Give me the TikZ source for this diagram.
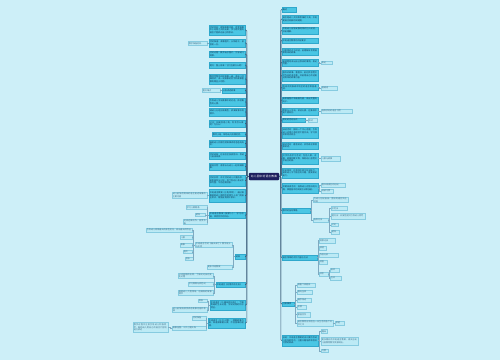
\documentclass[tikz,border=0pt]{standalone}
\usepackage{fontspec}
\newfontfamily\cjk{Noto Sans CJK SC}
\XeTeXlinebreaklocale "zh"
\XeTeXlinebreakskip=0pt plus 1pt
\definecolor{bg}{HTML}{CDEFF8}
\definecolor{mainfill}{HTML}{4AC6E4}
\definecolor{mainline}{HTML}{2FA8CC}
\definecolor{maintext}{HTML}{123A5A}
\definecolor{leaffill}{HTML}{BCEAF5}
\definecolor{leafline}{HTML}{86CBE0}
\definecolor{leaftext}{HTML}{3F6F8A}
\definecolor{centrefill}{HTML}{1D1F5E}
\definecolor{spinec}{HTML}{3D5F7C}
\definecolor{twigc}{HTML}{7FA9C0}
\tikzset{
  basebox/.style={rectangle, inner xsep=0.8pt, inner ysep=0.3pt, align=left,
    font=\cjk\fontsize{2.1}{2.6}\selectfont},
  mainbox/.style={basebox, fill=mainfill, draw=mainline, line width=0.3pt, text=maintext},
  leafbox/.style={basebox, fill=leaffill, draw=leafline, line width=0.3pt, text=leaftext},
  centrebox/.style={basebox, align=center, fill=centrefill, draw=centrefill, rounded corners=1pt,
    text=white, font=\cjk\fontsize{2.7}{3.2}\selectfont},
  spine/.style={draw=spinec, line width=0.6pt, rounded corners=1pt},
  twig/.style={draw=twigc, line width=0.35pt},
}
\newcommand\mbx[7]{%
  \pgfmathsetmacro\bw{#4-#2}\pgfmathsetmacro\bh{#5-#3}%
  \pgfmathsetmacro\bcx{(#2+#4)/2}\pgfmathsetmacro\bcy{(#3+#5)/2}%
  \pgfmathsetmacro\btw{#4-#2-1.6}%
  \node[#6, minimum width=\bw pt, minimum height=\bh pt, text width=\btw pt] (#1) at (\bcx,\bcy) {#7};}
\begin{document}
\begin{tikzpicture}[x=1pt,y=-1pt]
\useasboundingbox (0,0) rectangle (500,360);
\fill[bg] (0,0) rectangle (500,360);
\coordinate (spL) at (246.8,0);
\coordinate (spR) at (280.8,0);
% centre
\mbx{C}{249}{173}{279}{180}{centrebox}{幼儿园中班语言教案}
% left main
\mbx{L1}{209}{25}{245}{35}{mainbox}{活动目标：理解故事内容，感受故事中小动物之间的友爱，学习用完整的语言大胆表达自己的想法。}
\mbx{L2}{209}{39}{245}{47}{mainbox}{活动准备：故事图片、头饰若干，录音机一台。}
\mbx{L3}{209}{51}{245}{57.5}{mainbox}{活动过程：教师出示图片，引导幼儿观察。}
\mbx{L4}{209}{62}{245}{68.5}{mainbox}{提问：图上有谁？它们在做什么呢？}
\mbx{L5}{209}{74}{245}{84}{mainbox}{教师完整地讲述故事一遍，请幼儿仔细倾听，说一说故事的名字和故事里都有哪些小动物。}
\mbx{L6}{222}{88}{245}{93}{mainbox}{分段讲述故事}
\mbx{L7}{209}{98}{245}{106}{mainbox}{引导幼儿学说故事中的对话，体验角色的心情。}
\mbx{L8}{209}{108}{245}{116}{mainbox}{请幼儿分组扮演角色，表演故事中的情节。}
\mbx{L9}{209}{120}{245}{127}{mainbox}{讨论：如果你是小兔，你会怎么做呢？为什么？}
\mbx{L10}{212}{132}{245}{136.5}{mainbox}{教师小结，帮助幼儿梳理经验。}
\mbx{L11}{209}{140}{245}{147}{mainbox}{鼓励幼儿回家后把故事讲给爸爸妈妈听。}
\mbx{L12}{209}{152}{245}{159}{mainbox}{活动延伸：在语言区投放图书，供幼儿自由阅读。}
\mbx{L13}{209}{163}{245}{170}{mainbox}{家园共育：请家长与幼儿一起续编故事。}
\mbx{L14}{209}{175}{245}{186}{mainbox}{活动反思：本次活动幼儿兴趣浓厚，能积极参与讨论，但个别幼儿表达不够完整，今后还需加强。}
\mbx{L15}{209}{189}{245}{202}{mainbox}{中班语言教案《小兔乖乖》：通过故事帮助幼儿懂得不给陌生人开门的安全常识，增强自我保护意识。}
\mbx{L16}{209}{212}{245}{218.5}{mainbox}{中班语言教案《拔萝卜》：学习词语，体验合作的快乐。}
\mbx{L17}{235}{254}{245}{259}{mainbox}{延伸}
\mbx{L18}{216}{282}{245}{287}{mainbox}{中班语言《好饿的毛毛虫》}
\mbx{L19}{210}{300}{245}{310}{mainbox}{中班语言《小蝌蚪找妈妈》：了解青蛙的生长过程，学说动物的外形特征。}
\mbx{L20}{208}{318}{245}{328}{mainbox}{中班语言《三只小猪》：理解故事内容，知道做事要认真、不怕困难的道理。}
% left leaves
\mbx{L2a}{188}{41.5}{207}{45.5}{leafbox}{教学准备材料}
\mbx{L6a}{202}{88.5}{220}{92.5}{leafbox}{重点难点}
\mbx{L15a}{172}{192}{207}{198}{leafbox}{幼儿能够用简单的语言复述故事的主要内容}
\mbx{L16a}{186}{205.5}{207}{209.5}{leafbox}{学习儿歌朗诵}
\mbx{L16b}{195}{213}{205}{216.5}{leafbox}{游戏}
\mbx{L16c}{183}{220}{207}{224}{leafbox}{边说边做动作，感受节奏}
\mbx{LB}{195}{242.5}{232}{247.5}{leafbox}{中班语言活动《春天来了》教学设计与反思}
\mbx{LBa}{146}{228}{192}{232}{leafbox}{引导幼儿观察春天的景色变化，说出春天的特征}
\mbx{LBb}{180}{235.5}{192}{239}{leafbox}{儿歌}
\mbx{LBc}{180}{243}{192}{247}{leafbox}{故事}
\mbx{LBd}{183}{250}{192}{253.5}{leafbox}{图片}
\mbx{LBe}{185}{257}{193}{260.5}{leafbox}{音乐}
\mbx{L17b}{207}{265}{232}{269}{leafbox}{更多中班教案}
\mbx{L18a}{178}{273}{213}{278.5}{leafbox}{认识星期的名称，了解毛毛虫的变化过程}
\mbx{L18b}{188}{282}{213}{286}{leafbox}{学习数数与颜色词}
\mbx{L18c}{178}{290}{213}{295.5}{leafbox}{鼓励幼儿大胆想象，创编新的故事情节}
\mbx{L19a}{198}{299}{207}{302.5}{leafbox}{目标}
\mbx{L19b}{172}{307}{207}{312.5}{leafbox}{幼儿能够按顺序讲述故事内容并表演}
\mbx{L20a}{192}{316}{206}{320}{leafbox}{活动准备}
\mbx{L20b}{172}{326}{206}{330}{leafbox}{故事挂图、三只小猪头饰}
\mbx{L20c}{133}{322.5}{168}{332.5}{leafbox}{教学过程中注意引导幼儿积极思考，鼓励幼儿用自己的语言大胆地进行表达}
% right main
\mbx{R1}{282}{7}{296}{12}{mainbox}{概述}
\mbx{R2}{282}{15}{318}{23}{mainbox}{语言是幼儿交流和思维的工具，中班是语言发展的关键期。}
\mbx{R3}{282}{27}{318}{34}{mainbox}{中班幼儿能够安静地倾听别人说话，并能理解。}
\mbx{R4}{282}{38}{318}{43}{mainbox}{中班语言教育的目标要求}
\mbx{R5}{282}{48}{318}{55}{mainbox}{注意倾听对方讲话，能理解日常用语和简单的故事。}
\mbx{R6}{282}{59}{318}{66}{mainbox}{能清楚地说出自己想说的事情，表达完整。}
\mbx{R7}{282}{70}{318}{81}{mainbox}{喜欢听故事、看图书，能初步感受文学作品的语言美，并能用自己的话复述简单的故事内容。}
\mbx{R8}{282}{84.5}{318}{90.5}{mainbox}{会说本民族或本地区的语言和普通话。}
\mbx{R9}{282}{97}{318}{103}{mainbox}{能根据图片和画面内容，说出完整的句子。}
\mbx{R10}{282}{108}{318}{115}{mainbox}{愿意与人交谈，讲话礼貌，在集体中能大胆发言。}
\mbx{R11}{282}{118}{305}{122}{mainbox}{常见的活动形式}
\mbx{R12}{282}{127}{318}{138}{mainbox}{谈话活动：围绕一个中心话题，引导幼儿运用已有经验大胆交谈，学习倾听和轮流发言。}
\mbx{R13}{282}{142}{318}{149}{mainbox}{讲述活动：看图讲述、实物讲述和情景讲述。}
\mbx{R14}{282}{153}{318}{164}{mainbox}{文学作品学习活动：包括儿歌、诗歌、故事和散文等，帮助幼儿感受文学语言的美。}
\mbx{R15}{282}{168}{318}{178}{mainbox}{听说游戏：在游戏中练习听说能力，激发幼儿学习语言的兴趣，提高表达能力。}
\mbx{R16}{282}{183}{318}{193}{mainbox}{早期阅读活动：培养幼儿对图书的兴趣，掌握基本的阅读方法和技能。}
\mbx{R17}{282}{208}{310}{213}{mainbox}{教师的指导策略}
\mbx{R18}{282}{255}{317}{260}{mainbox}{语言领域的评价内容与方法}
\mbx{R19}{282}{302}{294}{306}{mainbox}{注意事项}
\mbx{R20}{282}{335}{318}{346}{mainbox}{总结：中班语言教案的设计要符合幼儿的年龄特点，注重兴趣培养和良好习惯的养成。}
% right leaves
\mbx{R6a}{321}{61}{332}{64.5}{leafbox}{表达}
\mbx{R8a}{321}{86}{337}{90}{leafbox}{普通话}
\mbx{R10a}{321}{109}{352}{113}{leafbox}{培养良好的语言习惯}
\mbx{R11a}{308}{118.5}{317}{122}{leafbox}{形式}
\mbx{R14a}{321}{156}{340}{161}{leafbox}{儿歌与故事}
\mbx{R16a}{321}{183}{345}{187}{leafbox}{图书阅读区的创设}
\mbx{R16b}{321}{189}{333}{193}{leafbox}{阅读习惯}
\mbx{R17a}{313}{197.5}{348}{202.5}{leafbox}{为幼儿创设自由、宽松的语言交往环境}
\mbx{R17b}{313}{218}{328}{222}{leafbox}{指导方法}
\mbx{R17c}{331}{206.5}{347}{210.5}{leafbox}{示范法}
\mbx{R17d}{331}{213}{365}{219}{leafbox}{提问法：开放性提问引导幼儿思考}
\mbx{R17e}{331}{223}{338}{226.5}{leafbox}{讨论}
\mbx{R17f}{331}{230}{339}{234}{leafbox}{游戏}
\mbx{R18a}{319}{238}{335}{243}{leafbox}{观察记录}
\mbx{R18b}{319}{246}{326}{250}{leafbox}{谈话}
\mbx{R18c}{319}{253}{338}{257}{leafbox}{作品分析}
\mbx{R18d}{319}{260}{327}{264}{leafbox}{测查}
\mbx{R18e}{319}{272}{328}{276}{leafbox}{评价}
\mbx{R18f}{330}{268}{339}{272}{leafbox}{自评}
\mbx{R18g}{330}{276}{341}{280}{leafbox}{互评}
\mbx{R19a}{297}{283}{315}{287}{leafbox}{尊重个体差异}
\mbx{R19b}{297}{290}{312}{294}{leafbox}{面向全体}
\mbx{R19c}{297}{298}{311}{302}{leafbox}{循序渐进}
\mbx{R19d}{297}{305}{306}{309}{leafbox}{反馈}
\mbx{R19e}{297}{312}{310}{317}{leafbox}{家园合作}
\mbx{R19f}{297}{320}{333}{326}{leafbox}{语言教育应渗透在一日生活的各个环节之中}
\mbx{R19g}{335}{321}{344}{325}{leafbox}{渗透}
\mbx{R20a}{321}{329.5}{327}{333}{leafbox}{趣味}
\mbx{R20b}{321}{337}{358}{345}{leafbox}{更多精彩的中班语言教案，请关注幼儿园教育教学资源网站。}
\mbx{R20c}{321}{349}{328}{352.5}{leafbox}{习惯}
% spine connectors
\foreach \n in {L1,L2,L3,L4,L5,L6,L7,L8,L9,L10,L11,L12,L13,L14,L15,L16,L17,L18,L19,L20}
  \draw[spine] (C.west) -- (C.west -| spL) |- (\n.east);
\foreach \n in {R1,R2,R3,R4,R5,R6,R7,R8,R9,R10,R11,R12,R13,R14,R15,R16,R17,R18,R19,R20}
  \draw[spine] (C.east) -- (C.east -| spR) |- (\n.west);
% left twigs
\foreach \p/\c in {L2/L2a,L6/L6a,L15/L15a,L16/L16a,L16/L16b,L16/L16c,L17/LB,L17/L17b,
  LB/LBa,LB/LBb,LB/LBc,LB/LBd,LB/LBe,L18/L18a,L18/L18b,L18/L18c,L19/L19a,L19/L19b,
  L20/L20a,L20/L20b,L20b/L20c}
  \draw[twig] (\p.west) -- ++(-1.2,0) |- (\c.east);
% right twigs
\foreach \p/\c in {R6/R6a,R8/R8a,R10/R10a,R11/R11a,R14/R14a,R16/R16a,R16/R16b,R17/R17a,R17/R17b,
  R17b/R17c,R17b/R17d,R17b/R17e,R17b/R17f,R18/R18a,R18/R18b,R18/R18c,R18/R18d,R18/R18e,
  R18e/R18f,R18e/R18g,R19/R19a,R19/R19b,R19/R19c,R19/R19d,R19/R19e,R19/R19f,R19f/R19g,
  R20/R20a,R20/R20b,R20/R20c}
  \draw[twig] (\p.east) -- ++(1.2,0) |- (\c.west);
\end{tikzpicture}
\end{document}
